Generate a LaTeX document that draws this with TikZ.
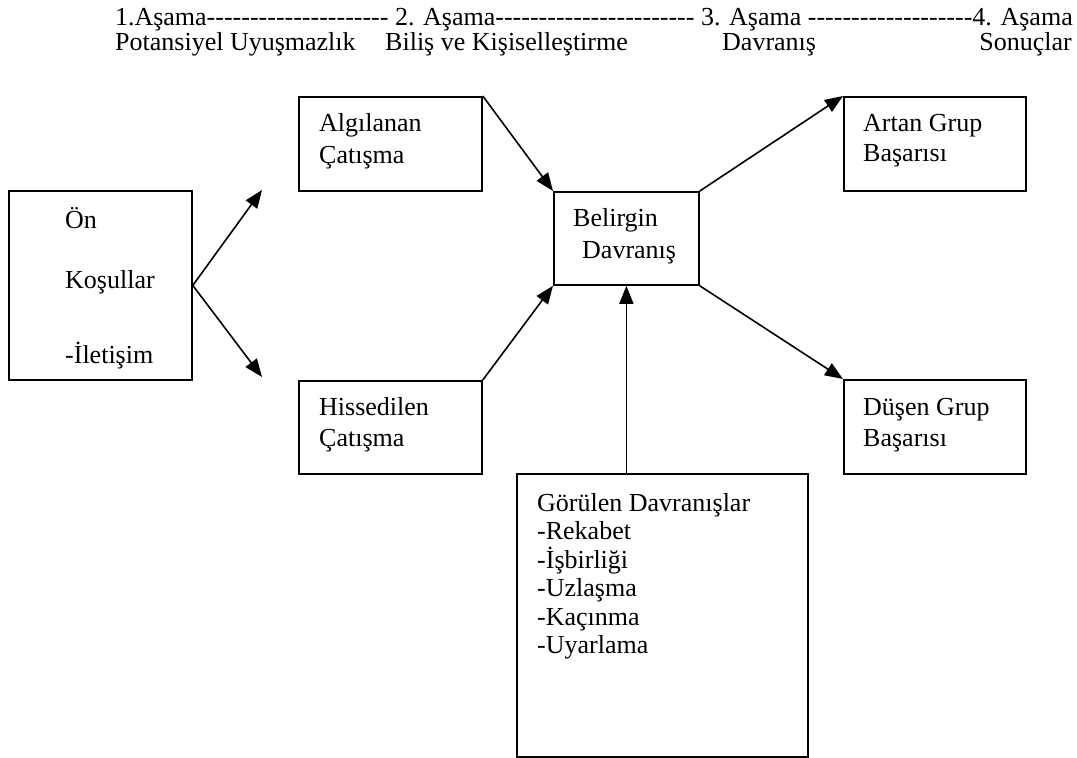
\documentclass[tikz,border=0pt]{standalone}
\usepackage{fontspec}
\setmainfont{Liberation Serif}[Ligatures=TeXOff]
\usetikzlibrary{arrows.meta,calc}
\tikzset{
  box/.style={draw, line width=1.8pt, rectangle, anchor=north west, inner sep=0pt},
  txt/.style={anchor=base west, inner sep=0pt, font=\fontsize{26}{28.5}\selectfont},
  arr/.style={line width=1.6pt, -{Triangle[length=18pt,width=14pt]}},
}
\begin{document}
\begin{tikzpicture}[x=1pt,y=-1pt]
\useasboundingbox (0,0) rectangle (1077,758);

% stage headings
\node[txt, anchor=base east] (h1) at (1073,25) {1.Aşama--------------------- 2. Aşama----------------------- 3. Aşama -------------------4. Aşama};
\node[txt] (h2a) at (115,50) {Potansiyel Uyuşmazlık};
\node[txt] (h2b) at (385,50) {Biliş ve Kişiselleştirme};
\node[txt] (h2c) at (722,50) {Davranış};
\node[txt, anchor=base east] (h2d) at (1072,50) {Sonuçlar};

% boxes
\node[box, minimum width=183, minimum height=189] (on) at (8,190) {};
\node[box, minimum width=183, minimum height=94] (alg) at (298,96) {};
\node[box, minimum width=183, minimum height=93] (his) at (298,380) {};
\node[box, minimum width=145, minimum height=93] (bel) at (553,191) {};
\node[box, minimum width=182, minimum height=94] (art) at (843,96) {};
\node[box, minimum width=182, minimum height=94] (dus) at (843,379) {};
\node[box, minimum width=291, minimum height=283] (gor) at (516,473) {};

% box texts
\node[txt] (t-on1) at (65,228) {Ön};
\node[txt] (t-on2) at (65,288) {Koşullar};
\node[txt] (t-on3) at (65,363) {-İletişim};
\node[txt] (t-alg1) at (319,131) {Algılanan};
\node[txt] (t-alg2) at (319,163) {Çatışma};
\node[txt] (t-his1) at (319,415) {Hissedilen};
\node[txt] (t-his2) at (319,446) {Çatışma};
\node[txt] (t-bel1) at (573,226) {Belirgin};
\node[txt] (t-bel2) at (582,258) {Davranış};
\node[txt] (t-art1) at (863,131) {Artan Grup};
\node[txt] (t-art2) at (863,161) {Başarısı};
\node[txt] (t-dus1) at (863,415) {Düşen Grup};
\node[txt] (t-dus2) at (863,446) {Başarısı};
\node[txt, align=left, anchor=north west] (t-gor) at (537,493) {Görülen Davranışlar\\-Rekabet\\-İşbirliği\\-Uzlaşma\\-Kaçınma\\-Uyarlama};

% connectors
\coordinate (up) at (262,190);
\coordinate (dn) at (262,377);
\draw[arr] (on.east) -- (up);
\draw[arr] (on.east) -- (dn);
\draw[arr] (alg.north east) -- (bel.north west);
\draw[arr] (his.north east) -- (bel.south west);
\draw[arr] (bel.south |- gor.north) -- (bel.south);
\draw[arr] (bel.north east) -- (art.north west);
\draw[arr] (bel.south east) -- (dus.north west);
\end{tikzpicture}
\end{document}
